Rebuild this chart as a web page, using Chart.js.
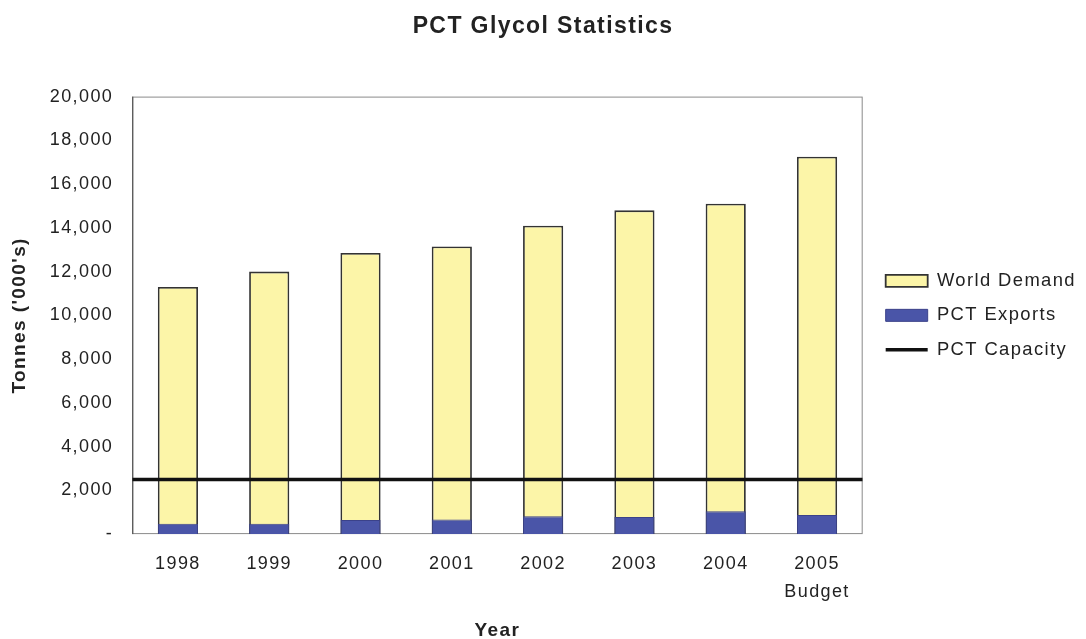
<!DOCTYPE html>
<html>
<head>
<meta charset="utf-8">
<title>PCT Glycol Statistics</title>
<script src="https://cdn.jsdelivr.net/npm/chart.js@4/dist/chart.umd.min.js"></script>
<style>
  html, body { margin: 0; padding: 0; background: #fff; }
  #wrap { width: 1086px; height: 639px; }
</style>
</head>
<body>
<div id="wrap"><canvas id="glycol-chart"></canvas></div>
<script>
// Yearly figures, tonnes ('000's)
const years = ['1998', '1999', '2000', '2001', '2002', '2003', '2004', ['2005', 'Budget']];
const worldDemand = [11300, 12000, 12850, 13150, 14100, 14800, 15100, 17250];
const pctExports = [470, 470, 640, 670, 820, 780, 1050, 870];
const pctCapacity = 2500;
const yTicks = [0, 2000, 4000, 6000, 8000, 10000, 12000, 14000, 16000, 18000, 20000];

const fontFamily = "'Liberation Sans', Arial, Helvetica, sans-serif";

// Frame round the plot area
const plotFrame = {
    id: 'plotFrame',
    beforeDatasetsDraw(chart) {
        const { ctx, chartArea: a } = chart;
        ctx.save();
        ctx.strokeStyle = '#8a8a8a';
        ctx.lineWidth = 1;
        ctx.strokeRect(a.left + 0.5, a.top + 0.5, a.right - a.left - 1, a.bottom - a.top - 1);
        ctx.strokeStyle = '#444';
        ctx.beginPath();
        ctx.moveTo(a.left + 0.5, a.top);
        ctx.lineTo(a.left + 0.5, a.bottom);
        ctx.stroke();
        ctx.restore();
    }
};

// Wider letter spacing for all text
const spacing = {
    id: 'spacing',
    beforeUpdate(chart) { chart.ctx.letterSpacing = '1.4px'; },
    beforeDraw(chart) { chart.ctx.letterSpacing = '1.4px'; }
};

const ctx = document.getElementById('glycol-chart').getContext('2d');

new Chart(ctx, {
    type: 'bar',
    data: {
        labels: years,
        datasets: [
            {
                label: 'World Demand',
                data: worldDemand,
                backgroundColor: '#fcf5a8',
                borderColor: '#333',
                borderWidth: 1.8,
                grouped: false,
                order: 2,
                pointStyle: 'rect'
            },
            {
                label: 'PCT Exports',
                data: pctExports,
                backgroundColor: '#4a55a8',
                borderColor: '#3b428a',
                borderWidth: 1,
                grouped: false,
                order: 1,
                pointStyle: 'rect'
            },
            {
                type: 'line',
                label: 'PCT Capacity',
                data: [{ x: 0, y: pctCapacity }, { x: 1, y: pctCapacity }],
                xAxisID: 'xLine',
                borderColor: '#111',
                backgroundColor: '#111',
                borderWidth: 3.5,
                pointRadius: 0,
                order: 0,
                pointStyle: 'line'
            }
        ]
    },
    options: {
        responsive: true,
        maintainAspectRatio: false,
        animation: false,
        categoryPercentage: 0.88,
        barPercentage: 0.5,
        layout: {
            padding: { left: 0, right: 0, top: 8, bottom: 0 }
        },
        plugins: {
            title: {
                display: true,
                text: 'PCT Glycol Statistics',
                color: '#222',
                font: { family: fontFamily, size: 23, weight: 'bold' },
                padding: { top: 5, bottom: 56 }
            },
            legend: {
                position: 'right',
                fullSize: false,
                maxWidth: 400,
                labels: {
                    color: '#222',
                    font: { family: fontFamily, size: 18.4 },
                    usePointStyle: true,
                    pointStyleWidth: 42,
                    boxHeight: 12,
                    padding: 16,
                    sort: (a, b) => a.datasetIndex - b.datasetIndex
                }
            },
            tooltip: { enabled: false }
        },
        scales: {
            x: {
                grid: { display: false, drawTicks: false },
                border: { display: false },
                ticks: {
                    color: '#222',
                    font: { family: fontFamily, size: 18, lineHeight: 1.55 },
                    padding: 16,
                    maxRotation: 0
                },
                title: {
                    display: true,
                    text: 'Year',
                    color: '#222',
                    font: { family: fontFamily, size: 19, weight: 'bold', lineHeight: 0.9 },
                    padding: { top: 0, bottom: 0 }
                }
            },
            xLine: {
                type: 'linear',
                display: false,
                offset: false,
                min: 0,
                max: 1
            },
            y: {
                min: 0,
                max: 20000,
                afterBuildTicks(scale) {
                    scale.ticks = yTicks.map(v => ({ value: v }));
                },
                grid: { display: false, drawTicks: false },
                border: { display: false },
                ticks: {
                    color: '#222',
                    font: { family: fontFamily, size: 18 },
                    padding: 19,
                    callback: v => v === 0 ? '-' : v.toLocaleString('en-US')
                },
                title: {
                    display: true,
                    text: "Tonnes ('000's)",
                    color: '#222',
                    font: { family: fontFamily, size: 19, weight: 'bold' },
                    padding: { top: 8, bottom: 0 }
                }
            },
            // empty strip between the plot and the legend
            gap: {
                type: 'linear',
                position: 'right',
                display: true,
                grid: { display: false, drawTicks: false },
                border: { display: false },
                ticks: { display: false },
                afterFit(scale) { scale.width = 7; }
            }
        }
    },
    plugins: [plotFrame, spacing]
});
</script>
</body>
</html>
